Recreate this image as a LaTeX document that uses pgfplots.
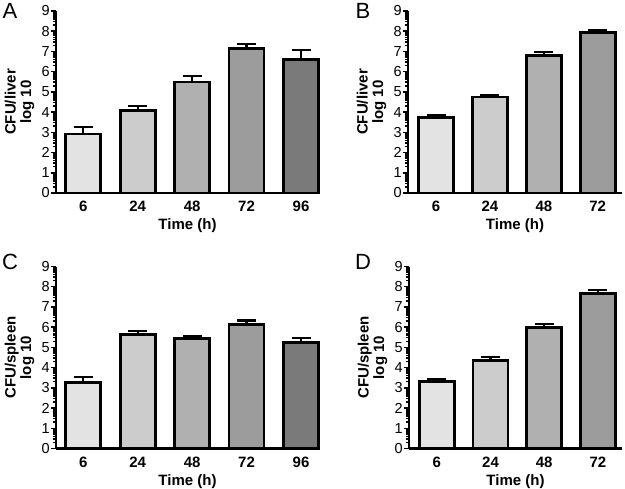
\documentclass[border=0pt]{standalone}
\usepackage{fontspec}
\setmainfont{Liberation Sans}
\usepackage{pgfplots}
\pgfplotsset{compat=1.18}

\definecolor{g1}{HTML}{E3E3E3}
\definecolor{g2}{HTML}{CCCCCC}
\definecolor{g3}{HTML}{B0B0B0}
\definecolor{g4}{HTML}{9C9C9C}
\definecolor{g5}{HTML}{7A7A7A}

\pgfplotsset{
  panel/.style={
    scale only axis,
    height=182pt,
    ymin=0, ymax=9,
    ytick={0,1,2,3,4,5,6,7,8,9},
    minor ytick={0.301,0.477,0.602,0.699,0.778,0.845,0.903,0.954,
      1.301,1.477,1.602,1.699,1.778,1.845,1.903,1.954,
      2.301,2.477,2.602,2.699,2.778,2.845,2.903,2.954,
      3.301,3.477,3.602,3.699,3.778,3.845,3.903,3.954,
      4.301,4.477,4.602,4.699,4.778,4.845,4.903,4.954,
      5.301,5.477,5.602,5.699,5.778,5.845,5.903,5.954,
      6.301,6.477,6.602,6.699,6.778,6.845,6.903,6.954,
      7.301,7.477,7.602,7.699,7.778,7.845,7.903,7.954,
      8.301,8.477,8.602,8.699,8.778,8.845,8.903,8.954},
    axis x line=bottom, axis y line=left,
    axis line style={line width=2.8pt, -},
    tick align=outside,
    major tick length=5pt, minor tick length=3pt,
    ytick style={line width=1.5pt, black},
    minor tick style={line width=1.2pt, black},
    xtick style={draw=none},
    xtick={0,1,2,3,4},
    xticklabels={6,24,48,72,96},
    xticklabel style={font=\bfseries\fontsize{15}{15}\selectfont},
    yticklabel style={font=\fontsize{14.5}{14.5}\selectfont, inner sep=1pt},
    /pgf/number format/assume math mode=true,
    xlabel={Time (h)},
    xlabel style={font=\bfseries\fontsize{15}{15}\selectfont},
    xlabel shift=0pt,
    ylabel style={font=\bfseries\fontsize{15}{15.5}\selectfont, align=center},
    ylabel shift=3pt,
    clip=false,
    error bars/y dir=plus,
    error bars/y explicit,
    error bars/error bar style={line width=2.2pt, black},
    error bars/error mark options={rotate=90, mark size=9.5pt, line width=2.2pt, black},
  },
  bb/.style={ybar, bar width=35pt, bar shift=0pt, draw=black, line width=2.8pt},
}

\begin{document}
\begin{tikzpicture}
\useasboundingbox (0pt,0pt) rectangle (625pt,489pt);

% A
\begin{axis}[panel, at={(56pt,296pt)}, anchor=south west, width=263pt,
  xmin=-0.5, xmax=4.33, ylabel={CFU/liver\\log 10}]
\addplot[bb, fill=g1] coordinates {(0,2.92) +- (0,0.35)};
\addplot[bb, fill=g2] coordinates {(1,4.09) +- (0,0.20)};
\addplot[bb, fill=g3] coordinates {(2,5.49) +- (0,0.28)};
\addplot[bb, fill=g4] coordinates {(3,7.16) +- (0,0.20)};
\addplot[bb, fill=g5] coordinates {(4,6.62) +- (0,0.44)};
\end{axis}

% B
\begin{axis}[panel, at={(408pt,296pt)}, anchor=south west, width=214pt,
  xmin=-0.52, xmax=3.45, ylabel={CFU/liver\\log 10}]
\addplot[bb, fill=g1] coordinates {(0,3.75) +- (0,0.08)};
\addplot[bb, fill=g2] coordinates {(1,4.75) +- (0,0.10)};
\addplot[bb, fill=g3] coordinates {(2,6.80) +- (0,0.16)};
\addplot[bb, fill=g4] coordinates {(3,7.95) +- (0,0.09)};
\end{axis}

% C
\begin{axis}[panel, at={(56pt,40.5pt)}, anchor=south west, width=263pt,
  xmin=-0.5, xmax=4.33, ylabel={CFU/spleen\\log 10}]
\addplot[bb, fill=g1] coordinates {(0,3.25) +- (0,0.28)};
\addplot[bb, fill=g2] coordinates {(1,5.63) +- (0,0.18)};
\addplot[bb, fill=g3] coordinates {(2,5.45) +- (0,0.10)};
\addplot[bb, fill=g4] coordinates {(3,6.13) +- (0,0.20)};
\addplot[bb, fill=g5] coordinates {(4,5.24) +- (0,0.21)};
\end{axis}

% D
\begin{axis}[panel, at={(409pt,40.5pt)}, anchor=south west, width=213pt,
  xmin=-0.52, xmax=3.45, ylabel={CFU/spleen\\log 10}]
\addplot[bb, fill=g1] coordinates {(0,3.30) +- (0,0.11)};
\addplot[bb, fill=g2] coordinates {(1,4.35) +- (0,0.17)};
\addplot[bb, fill=g3] coordinates {(2,5.99) +- (0,0.17)};
\addplot[bb, fill=g4] coordinates {(3,7.67) +- (0,0.17)};
\end{axis}

\node[font=\fontsize{22}{22}\selectfont] at (10pt,478pt) {A};
\node[font=\fontsize{22}{22}\selectfont] at (363pt,478pt) {B};
\node[font=\fontsize{22}{22}\selectfont] at (10pt,227pt) {C};
\node[font=\fontsize{22}{22}\selectfont] at (363pt,227pt) {D};
\end{tikzpicture}
\end{document}
